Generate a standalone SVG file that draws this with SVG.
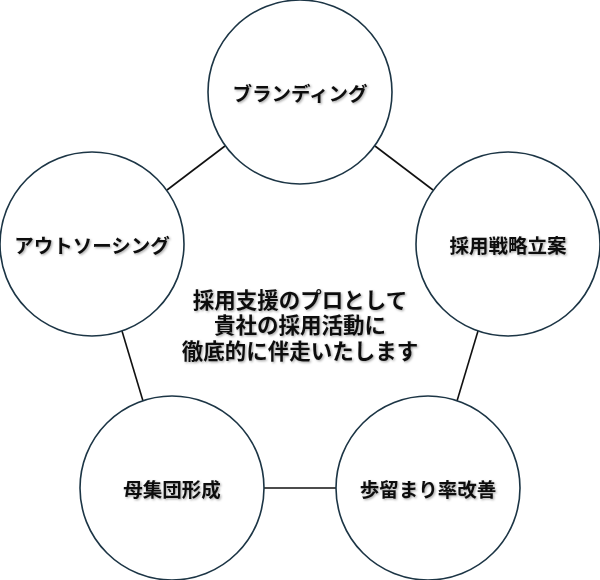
<svg xmlns="http://www.w3.org/2000/svg" width="600" height="580" viewBox="0 0 600 580">
<style>
.node circle{fill:#ffffff;stroke:#1c3545;stroke-width:1.6}
.lbl{font-family:"Noto Sans CJK JP","Noto Sans CJK SC",sans-serif;font-weight:bold;font-size:19.5px;fill:#111111;text-anchor:middle;dominant-baseline:central;filter:url(#sh)}
.ctr{font-size:21.5px}
#connectors line{stroke:#111111;stroke-width:1.6}
</style>
<defs>
<filter id="sh" x="-10%" y="-30%" width="120%" height="160%">
<feDropShadow dx="1.2" dy="1.2" stdDeviation="1" flood-color="#000000" flood-opacity="0.35"/>
</filter>
</defs>
<rect width="600" height="580" fill="#ffffff"/>
<g id="connectors">
<line x1="225" y1="146" x2="167" y2="190"/>
<line x1="375" y1="146" x2="433" y2="190"/>
<line x1="478" y1="331" x2="457" y2="401"/>
<line x1="122" y1="331" x2="143" y2="401"/>
<line x1="264" y1="488" x2="336" y2="488"/>
</g>
<g id="node-branding" class="node">
<circle cx="300" cy="92" r="92"/>
<text class="lbl" x="300" y="92">ブランディング</text>
</g>
<g id="node-outsourcing" class="node">
<circle cx="92" cy="244" r="92"/>
<text class="lbl" x="92" y="244">アウトソーシング</text>
</g>
<g id="node-strategy" class="node">
<circle cx="508" cy="244" r="92"/>
<text class="lbl" x="508" y="244">採用戦略立案</text>
</g>
<g id="node-population" class="node">
<circle cx="172" cy="488" r="92"/>
<text class="lbl" x="172" y="488">母集団形成</text>
</g>
<g id="node-retention" class="node">
<circle cx="428" cy="488" r="92"/>
<text class="lbl" x="428" y="488">歩留まり率改善</text>
</g>
<g id="center-text">
<text class="lbl ctr" x="300" y="298">採用支援のプロとして</text>
<text class="lbl ctr" x="300" y="323">貴社の採用活動に</text>
<text class="lbl ctr" x="300" y="349">徹底的に伴走いたします</text>
</g>
</svg>
